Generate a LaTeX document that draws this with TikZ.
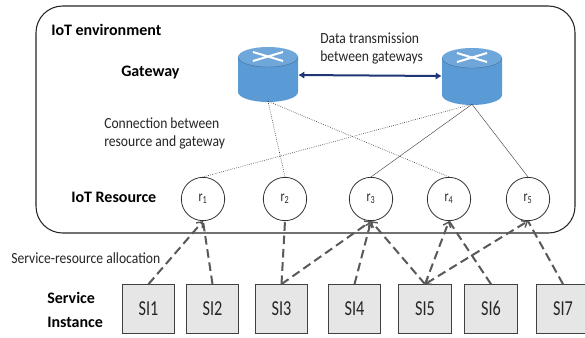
\documentclass[tikz,border=0pt]{standalone}
\usepackage{fontspec}
\setmainfont{Carlito}
\newfontfamily\narrowfont[FakeStretch=0.88]{Carlito}
\newfontfamily\tightfont[FakeStretch=0.76,Numbers=Lining]{Carlito}
\usetikzlibrary{arrows.meta}
\definecolor{gwfill}{HTML}{5B9BD5}
\definecolor{gwedge}{HTML}{41719C}
\definecolor{linkblue}{HTML}{1F3575}
\definecolor{sifill}{HTML}{E6E6E6}
\definecolor{txt}{HTML}{262626}
\tikzset{
  x=0.75pt,y=-0.75pt,
  lab/.style={font=\narrowfont\fontsize{11.6}{13.5}\selectfont,text=txt,inner sep=0pt,align=left},
  blab/.style={font=\fontsize{12}{17.5}\selectfont\bfseries,text=black,inner sep=0pt,align=left},
  res/.style={circle,draw=black!80,line width=0.6pt,fill=white,minimum size=32.5pt,inner sep=0pt,font=\tightfont\fontsize{11.5}{13}\selectfont,text=txt},
  sibox/.style={rectangle,draw=black!75,line width=0.8pt,fill=sifill,minimum height=36.5pt,inner sep=0pt,font=\tightfont\fontsize{16}{18}\selectfont,text=black!85,text height=10pt,text depth=0pt},
  gwbox/.style={rectangle,minimum width=45pt,inner sep=0pt},
  wire/.style={black!70,line width=0.35pt},
  wiredot/.style={black!85,line width=0.45pt,densely dotted},
  alloc/.style={black!65,line width=1.5pt,dash pattern=on 6.5pt off 3.5pt},
  allocarrow/.style={alloc,-{Straight Barb[length=3.5pt,width=6pt,line width=1.1pt]}},
  dblarrow/.style={linkblue,line width=1.5pt,{Latex[length=4.5pt,width=5.5pt]}-{Latex[length=4.5pt,width=5.5pt]}}
}
\newcommand{\routershape}[3]{% centre x, top-ellipse y, bottom y
  \fill[gwfill] (#1-30,#2) -- (#1-30,#3-9) arc[start angle=180,end angle=360,x radius=22.5pt,y radius=7.5pt] -- (#1+30,#2) -- cycle;
  \fill[gwfill!88!white] (#1,#2) ellipse[x radius=22.5pt,y radius=7.5pt];
  \draw[gwedge,line width=0.3pt] (#1-30,#2) arc[start angle=180,end angle=360,x radius=22.5pt,y radius=7.5pt];
  \draw[white,line width=1.5pt] (#1-15,#2-5) -- (#1+15,#2+4) (#1-15,#2+4) -- (#1+15,#2-5);
}
\begin{document}
\begin{tikzpicture}
\useasboundingbox (0,0) rectangle (585,337);
\fill[white] (0,0) rectangle (585,337);
\draw[black!85,line width=0.8pt,rounded corners=20pt] (36,6) rectangle (575,233);

\routershape{268}{57}{101}
\routershape{472}{58}{104}
\node[gwbox,minimum height=39pt] (gw1) at (268,75) {};
\node[gwbox,minimum height=42pt] (gw2) at (472,76) {};

\node[blab,anchor=west] (t1) at (51,30) {IoT environment};
\node[blab,anchor=west] (t2) at (121,73) {Gateway};
\node[blab,anchor=west] (t3) at (71,197) {IoT Resource};
\node[blab,anchor=west] (t4) at (47,310) {Service\\Instance};
\node[lab,anchor=west] (t5) at (320,49) {Data transmission\\between gateways};
\node[lab,anchor=west] (t6) at (104,133) {Connection between\\resource and gateway};
\node[lab,anchor=west] (t7) at (11,258) {Service-resource allocation};

\node[res] (r1) at (203,199) {r\textsubscript{1}};
\node[res] (r2) at (285,199) {r\textsubscript{2}};
\node[res] (r3) at (371,199) {r\textsubscript{3}};
\node[res] (r4) at (449,199) {r\textsubscript{4}};
\node[res] (r5) at (528,199) {r\textsubscript{5}};

\node[sibox,minimum width=39.5pt] (s1) at (148.5,309) {SI1};
\node[sibox,minimum width=39.5pt] (s2) at (212.5,309) {SI2};
\node[sibox,minimum width=39.5pt] (s3) at (281.5,309) {SI3};
\node[sibox,minimum width=39.5pt] (s4) at (354.5,309) {SI4};
\node[sibox,minimum width=39.5pt] (s5) at (425,309) {SI5};
\node[sibox,minimum width=39.5pt] (s6) at (491,309) {SI6};
\node[sibox,minimum width=39.5pt] (s7) at (563,309) {SI7};

\draw[dblarrow] (gw1.east) -- (gw2.west);
\draw[wiredot] (gw1.south) -- (r2.north);
\draw[wiredot] (gw1.south) -- (r4.north);
\draw[wiredot] (gw2.south) -- (r1.north);
\draw[wire] (gw2.south) -- (r3.north);
\draw[wire] (gw2.south) -- (r5.north);

\draw[allocarrow] (s1.north) -- (r1.south);
\draw[alloc] (s2.north) -- (r1.south);
\draw[alloc] (s3.north) -- (r2.south);
\draw[allocarrow] (s3.north) -- (r3.south);
\draw[allocarrow] (s4.north) -- (r3.south);
\draw[allocarrow] (s5.north) -- (r3.south);
\draw[allocarrow] (s5.north) -- (r4.south);
\draw[allocarrow,{Straight Barb[length=3.5pt,width=6pt,line width=1.1pt]}-{Straight Barb[length=3.5pt,width=6pt,line width=1.1pt]}] (s5.north) -- (r5.south);
\draw[alloc] (s6.north) -- (r4.south);
\draw[alloc] (s7.north) -- (r5.south);
\end{tikzpicture}
\end{document}
